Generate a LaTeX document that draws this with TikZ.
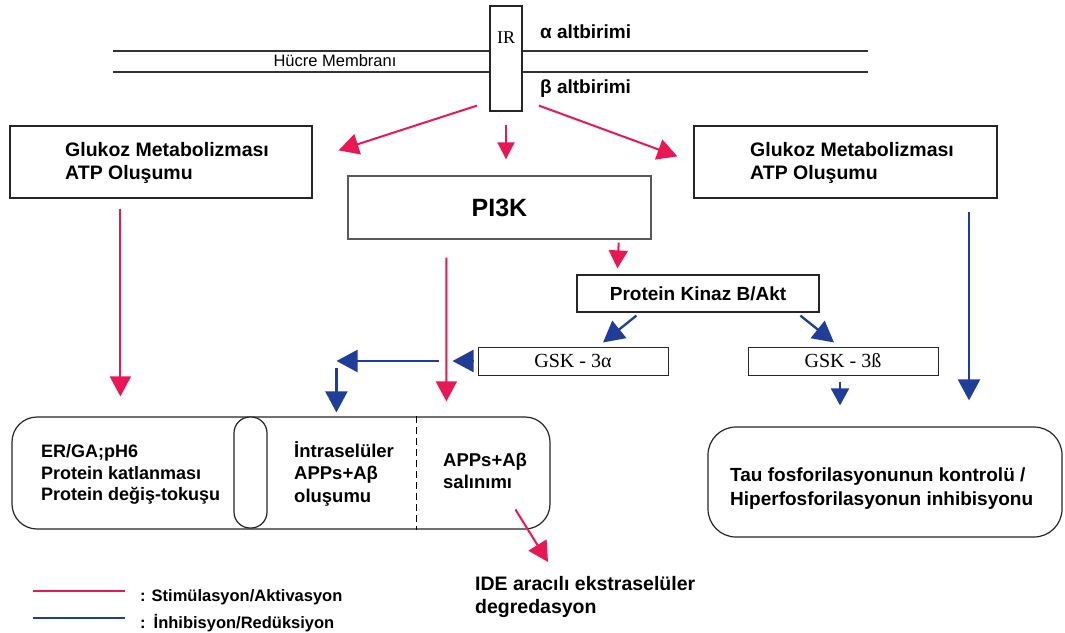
\documentclass[tikz,border=0pt]{standalone}
\usepackage{fontspec}
\setmainfont{Liberation Sans}
\newfontfamily\timesf{Liberation Serif}
\usetikzlibrary{arrows.meta,calc}
\definecolor{stimred}{RGB}{232,24,84}
\definecolor{inhblue}{RGB}{32,62,152}
\begin{document}
\begin{tikzpicture}[x=1pt,y=-1pt,
  frame/.style={draw=black!85,line width=1.2pt,inner sep=0pt,fill=white},
  txt/.style={inner sep=0pt,anchor=north west,align=left,font=\fontsize{19.5}{23.5}\selectfont\bfseries},
  stim/.style={draw=stimred,line width=2pt,-{Triangle[length=20pt,width=21pt]}},
  inh/.style={draw=inhblue,line width=2.3pt,-{Triangle[length=21pt,width=22pt]}},
  smallinh/.style={draw=inhblue,line width=2.3pt,-{Triangle[length=17pt,width=18pt]}},
  memline/.style={draw=black!80,line width=1.2pt},
]
\useasboundingbox (0,0) rectangle (1065,632);

% membrane
\coordinate (m1a) at (113,51); \coordinate (m1b) at (868,51);
\coordinate (m2a) at (113,72); \coordinate (m2b) at (868,72);
\draw[memline] (m1a) -- (m1b);
\draw[memline] (m2a) -- (m2b);
\node[inner sep=0pt,font=\fontsize{16.5}{18}\selectfont] (hm) at (335,61) {Hücre Membranı};
\node[frame,minimum width=32,minimum height=105] (ir) at (506,58.5) {};
\node[inner sep=0pt,font=\timesf\fontsize{18}{20}\selectfont] (irt) at (506,38) {IR};
\node[inner sep=0pt,anchor=west,font=\fontsize{19}{20}\selectfont\bfseries] (alpha) at (540,32) {α altbirimi};
\node[inner sep=0pt,anchor=west,font=\fontsize{19}{20}\selectfont\bfseries] (beta) at (540,89) {β altbirimi};

% glucose boxes
\node[frame,minimum width=302,minimum height=72] (gl) at (161,162) {};
\node[txt] (glt) at (65,142) {Glukoz Metabolizması\\ATP Oluşumu};
\node[frame,minimum width=303,minimum height=72] (gr) at (845.5,162) {};
\node[txt] (grt) at (750,142) {Glukoz Metabolizması\\ATP Oluşumu};

% PI3K
\node[frame,draw=black!65,line width=1.4pt,minimum width=303,minimum height=63,font=\fontsize{25}{28}\selectfont\bfseries] (pi3k) at (499.5,207.5) {PI3K};
% Akt
\node[frame,minimum width=242,minimum height=37,font=\fontsize{19}{20}\selectfont\bfseries] (akt) at (698,293.5) {Protein Kinaz B/Akt};
% GSK
\node[frame,line width=1pt,minimum width=190,minimum height=28,font=\timesf\fontsize{20}{22}\selectfont] (gska) at (573,361) {GSK - 3α};
\node[frame,line width=1pt,minimum width=190,minimum height=28,font=\timesf\fontsize{20}{22}\selectfont] (gskb) at (843,361) {GSK - 3ß};

% big left compartment box
\node[frame,rounded corners=25pt,minimum width=538,minimum height=112] (big) at (281,473) {};
\node[frame,rounded corners=16pt,minimum width=33,minimum height=111] (pill) at (250.5,472.5) {};
\coordinate (dsa) at ($(big.north west)+(405,0)$);
\coordinate (dsb) at ($(big.south west)+(405,0)$);
\draw[dashed,line width=1.1pt,dash pattern=on 7pt off 4pt] (dsa) -- (dsb);
\node[txt,font=\fontsize{18}{21.8}\selectfont\bfseries] (ergt) at (41,444) {ER/GA;pH6\\Protein katlanması\\Protein değiş-tokuşu};
\node[txt,font=\fontsize{18.5}{22.5}\selectfont\bfseries] (intt) at (294,441) {İntraselüler\\APPs+Aβ\\oluşumu};
\node[txt,font=\fontsize{18.5}{22}\selectfont\bfseries] (salt) at (443,453) {APPs+Aβ\\salınımı};

% tau box
\node[frame,rounded corners=28pt,minimum width=354,minimum height=110] (tau) at (885,482) {};
\node[txt,font=\fontsize{19}{23.5}\selectfont\bfseries] (taut) at (730,468) {Tau fosforilasyonunun kontrolü /\\Hiperfosforilasyonun inhibisyonu};

% IDE
\node[txt] (ide) at (475,576) {IDE aracılı ekstraselüler\\degredasyon};

% arrows (stimulation)
\draw[stim] ($(ir.south)+(-29,-6)$) -- ($(gl.north east)+(26,25)$);
\draw[stim,-{Triangle[length=17pt,width=17pt]}] ($(ir.south)+(0,13)$) -- ($(pi3k.north)+(6.5,-16)$);
\draw[stim] ($(ir.south)+(33,-6)$) -- ($(gr.north west)+(-16,31)$);
\draw[stim] ($(gl.south west)+(111,10)$) -- ($(big.north west)+(109,-20)$);
\draw[stim,-{Triangle[length=18pt,width=19pt]}] ($(pi3k.south east)+(-33,3)$) -- ($(akt.north west)+(41,-6)$);
\draw[stim] ($(pi3k.south west)+(99,18)$) -- ($(big.north west)+(435,-15)$);
\draw[stim] ($(big.north west)+(504,93)$) -- ($(ide.north west)+(73,-14)$);

% arrows (inhibition)
\draw[inh] ($(akt.south west)+(60,3)$) -- ($(gska.north)+(30,-4)$);
\draw[inh] ($(akt.south west)+(224,3)$) -- ($(gskb.north)+(-9,-4)$);
\draw[inh] ($(gska.west)+(-4,0)$) -- ($(gska.west)+(-25,0)$);
\draw[inh] ($(gska.west)+(-39,0)$) -- ($(gska.west)+(-141,0)$);
\draw[inh] ($(big.north west)+(325,-48)$) -- ($(big.north west)+(325,-4)$);
\draw[smallinh] ($(gskb.south)+(-3,6)$) -- ($(tau.north)+(-45,-21)$);
\draw[inh] ($(gr.south)+(123.5,13)$) -- ($(tau.north)+(84,-26)$);

% legend
\coordinate (l1a) at (33,591); \coordinate (l1b) at (125,591);
\coordinate (l2a) at (33,618); \coordinate (l2b) at (125,618);
\draw[draw=stimred,line width=2pt] (l1a) -- (l1b);
\draw[draw=inhblue,line width=2.3pt] (l2a) -- (l2b);
\node[inner sep=0pt,anchor=base west,font=\fontsize{16.5}{18}\selectfont\bfseries] (leg1) at (140,601) {:\hspace{6pt}Stimülasyon/Aktivasyon};
\node[inner sep=0pt,anchor=base west,font=\fontsize{16.5}{18}\selectfont\bfseries] (leg2) at (140,628) {:\hspace{8pt}İnhibisyon/Redüksiyon};
\end{tikzpicture}
\end{document}
